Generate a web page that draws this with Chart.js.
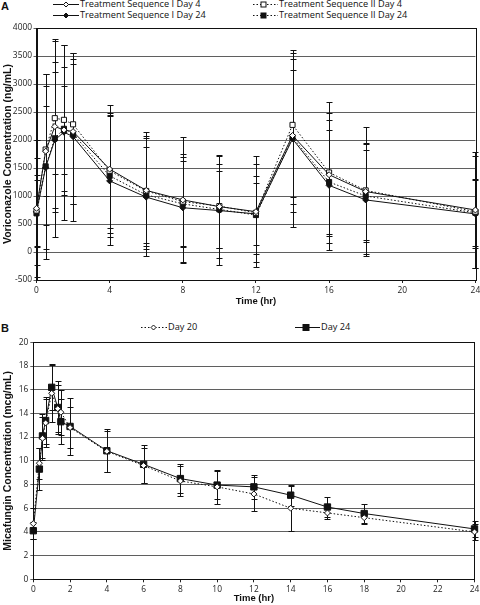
<!DOCTYPE html>
<html>
<head>
<meta charset="utf-8">
<script src="https://cdn.jsdelivr.net/npm/chart.js@4.4.1/dist/chart.umd.min.js"></script>
<style>
  body { margin: 0; background: #fff; width: 480px; height: 605px; overflow: hidden; position: relative; font-family: "Open Sans", "Liberation Sans", Arial, sans-serif; color: #111; }
  .panel { position: absolute; left: 0; width: 480px; }
  #wrapA { top: 0; height: 310px; }
  #wrapB { top: 315px; height: 290px; }
  .letter { position: absolute; font: bold 11px "Liberation Sans", Arial, sans-serif; line-height: 11px; }
  .lg { position: absolute; font-size: 9.2px; line-height: 10px; height: 10px; white-space: nowrap; display: flex; align-items: center; }
  .lg svg { display: block; margin-right: 1px; }
</style>
</head>
<body>
<div class="letter" style="left:1px;top:1px">A</div>
<div class="letter" style="left:1px;top:323px">B</div>
<div id="legends"></div>
<div class="panel" id="wrapA"><canvas id="chartA" width="480" height="310"></canvas></div>
<div class="panel" id="wrapB"><canvas id="chartB" width="480" height="290"></canvas></div>
<script>
// panel A: voriconazole, mean +/- SD
const timesA = [0, 0.5, 1, 1.5, 2, 4, 6, 8, 10, 12, 14, 16, 18, 24];
const seqIDay4 = [780, 1800, 2240, 2180, 2150, 1480, 1100, 930, 810, 720, 2080, 1380, 1080, 750];
const seqIDay4Sd = [1220, 800, 1530, 780, 1300, 1140, 1040, 1130, 920, 990, 1370, 1100, 870, 1040];
const seqIDay24 = [720, 1510, 2000, 2140, 2060, 1270, 980, 790, 740, 680, 2020, 1190, 930, 680];
const seqIDay24Sd = [960, 1450, 1220, 1560, 1500, 1150, 1060, 960, 980, 550, 1580, 1160, 1000, 600];
const seqIIDay4 = [740, 1830, 2390, 2360, 2280, 1450, 1090, 900, 820, 700, 2270, 1420, 1100, 720];
const seqIIDay4Sd = [630, 1340, 1000, 1340, 1280, 1030, 980, 800, 750, 880, 1280, 1260, 1130, 1000];
const seqIIDay24 = [690, 1530, 2030, 2200, 2110, 1360, 1020, 860, 760, 660, 2050, 1250, 1000, 700];
const seqIIDay24Sd = [600, 1650, 1770, 1110, 1250, 1090, 860, 770, 680, 700, 1200, 920, 830, 600];
const xTicksA = [0, 4, 8, 12, 16, 20, 24];
const yTicksA = [-500, 0, 500, 1000, 1500, 2000, 2500, 3000, 3500, 4000];

// panel B: micafungin, mean +/- SD
const timesB = [0, 0.33, 0.5, 0.67, 1, 1.33, 1.5, 2, 4, 6, 8, 10, 12, 14, 16, 18, 24];
const day20 = [4.7, 9.8, 11.9, 13.2, 15.7, 14.4, 14.1, 12.8, 10.8, 9.6, 8.3, 7.8, 7.2, 6.0, 5.6, 5.2, 4.0];
const day20Sd = [1.3, 1.3, 1.8, 2.0, 2.4, 2.0, 1.9, 1.7, 1.75, 1.45, 1.25, 1.45, 1.4, 1.9, 0.5, 0.5, 0.7];
const day24 = [4.1, 9.3, 12.1, 13.4, 16.2, 14.5, 13.3, 12.9, 10.85, 9.7, 8.5, 7.95, 7.8, 7.1, 6.1, 5.55, 4.25];
const day24Sd = [0.7, 1.75, 1.85, 2.0, 1.95, 2.2, 1.9, 2.4, 1.8, 1.6, 1.25, 1.2, 1.0, 0.9, 0.85, 0.8, 0.7];
const xTicksB = [0, 2, 4, 6, 8, 10, 12, 14, 16, 18, 20, 22, 24];
const yTicksB = [0, 2, 4, 6, 8, 10, 12, 14, 16, 18, 20];

const TICK_FONT = { family: "'Open Sans', 'Liberation Sans', Arial, sans-serif", size: 8.4 };
const TITLE_FONT = { family: "'Liberation Sans', Arial, sans-serif", size: 9.5, weight: 'bold' };
const YTITLE_FONT = { family: "'Liberation Sans', Arial, sans-serif", size: 10.5, weight: 'bold' };

function pts(xs, ys) { return xs.map((x, i) => ({ x: x, y: ys[i] })); }

function series(label, xs, ys, sd, style) {
  return {
    label: label,
    data: pts(xs, ys),
    sd: sd,
    clip: false,
    borderColor: '#111',
    borderWidth: 1,
    borderDash: style.dotted ? [1.5, 2] : [],
    pointStyle: style.shape,
    pointRadius: style.r,
    pointHoverRadius: style.r,
    pointBorderWidth: 1,
    pointBorderColor: '#111',
    pointBackgroundColor: style.open ? '#fff' : '#111',
    tension: 0,
    fill: false
  };
}

// error bars + plot frame, drawn through the chart's scales
const errorBars = {
  id: 'errorBars',
  beforeDatasetsDraw(chart, args, opts) {
    const { ctx, chartArea: a, scales: { x, y } } = chart;
    ctx.save();
    ctx.strokeStyle = '#111';
    ctx.lineWidth = 1;
    ctx.strokeRect(Math.round(a.left) + 0.5, Math.round(a.top) + 0.5, Math.round(a.width), Math.round(a.height));
    const cap = opts.cap || 3;
    chart.data.datasets.forEach(ds => {
      if (!ds.sd) return;
      ds.data.forEach((p, i) => {
        const px = Math.round(x.getPixelForValue(p.x)) + 0.5;
        const hi = Math.round(y.getPixelForValue(p.y + ds.sd[i])) + 0.5;
        const lo = Math.round(y.getPixelForValue(p.y - ds.sd[i])) + 0.5;
        ctx.beginPath();
        ctx.moveTo(px, hi); ctx.lineTo(px, lo);
        ctx.moveTo(px - cap, hi); ctx.lineTo(px + cap, hi);
        ctx.moveTo(px - cap, lo); ctx.lineTo(px + cap, lo);
        ctx.stroke();
      });
    });
    ctx.restore();
  }
};

function makeChart(id, datasets, cfg) {
  return new Chart(document.getElementById(id), {
    type: 'line',
    data: { datasets: datasets },
    plugins: [errorBars],
    options: {
      responsive: false,
      animation: false,
      events: [],
      layout: { padding: { left: 0, top: cfg.top, right: cfg.right, bottom: 0 } },
      plugins: { legend: { display: false }, tooltip: { enabled: false }, errorBars: { cap: cfg.cap } },
      scales: {
        x: {
          type: 'linear', min: 0, max: 24,
          afterBuildTicks: s => { s.ticks = cfg.xTicks.map(v => ({ value: v })); },
          afterFit: s => { s.height = cfg.xHeight; s.paddingLeft = 0; s.paddingRight = 0; },
          grid: { drawOnChartArea: false, drawTicks: true, tickLength: 3, color: '#222' },
          border: { display: true, color: '#111' },
          ticks: { font: TICK_FONT, color: '#222', padding: cfg.xPad, maxRotation: 0, callback: v => String(v) },
          title: { display: true, text: 'Time (hr)', font: TITLE_FONT, color: '#111', padding: { top: 0, bottom: cfg.xTitlePad } }
        },
        y: {
          type: 'linear', min: cfg.yMin, max: cfg.yMax,
          afterBuildTicks: s => { s.ticks = cfg.yTicks.map(v => ({ value: v })); },
          afterFit: s => { s.width = cfg.yWidth; s.paddingTop = 0; s.paddingBottom = 0; },
          grid: { color: '#5f5f5f', lineWidth: 1, drawTicks: true, tickLength: 3 },
          border: { display: true, color: '#111' },
          ticks: { font: TICK_FONT, color: '#222', padding: cfg.yPad, callback: v => String(v) },
          title: { display: true, text: cfg.yTitle, font: YTITLE_FONT, color: '#111', padding: { top: 1.5, bottom: 0 } }
        }
      }
    }
  });
}

makeChart('chartA', [
  series('Treatment Sequence I Day 4', timesA, seqIDay4, seqIDay4Sd, { shape: 'rectRot', r: 3, open: true, dotted: false }),
  series('Treatment Sequence II Day 4', timesA, seqIIDay4, seqIIDay4Sd, { shape: 'rect', r: 3.6, open: true, dotted: true }),
  series('Treatment Sequence II Day 24', timesA, seqIIDay24, seqIIDay24Sd, { shape: 'rect', r: 3.6, open: false, dotted: true }),
  series('Treatment Sequence I Day 24', timesA, seqIDay24, seqIDay24Sd, { shape: 'rectRot', r: 3, open: false, dotted: false })
], { top: 28, right: 3, yWidth: 36.5, xHeight: 30, yMin: -500, yMax: 4000, xTicks: xTicksA, yTicks: yTicksA,
     xPad: 3, yPad: 1.5, xTitlePad: 3, cap: 3, yTitle: 'Voriconazole Concentration (ng/mL)' });

makeChart('chartB', [
  series('Day 20', timesB, day20, day20Sd, { shape: 'rectRot', r: 3, open: true, dotted: true }),
  series('Day 24', timesB, day24, day24Sd, { shape: 'rect', r: 4.5, open: false, dotted: false })
], { top: 27.3, right: 5.3, yWidth: 33.3, xHeight: 25.7, yMin: 0, yMax: 20, xTicks: xTicksB, yTicks: yTicksB,
     xPad: 2, yPad: 2, xTitlePad: 0.5, cap: 3, yTitle: 'Micafungin Concentration (mcg/mL)' });

// legends as html, sample marks drawn in small svgs
function sample(w, mx, dotted, shape, open, size) {
  const fill = open ? '#fff' : '#111';
  const dash = dotted ? ' stroke-dasharray="1.5 2"' : '';
  const mark = shape === 'rect'
    ? `<rect x="${mx - size}" y="${5.5 - size}" width="${2 * size}" height="${2 * size}" fill="${fill}" stroke="#111" stroke-width="1"/>`
    : `<polygon points="${mx},${5.5 - size} ${mx + size},5.5 ${mx},${5.5 + size} ${mx - size},5.5" fill="${fill}" stroke="#111" stroke-width="1"/>`;
  return `<svg width="${w}" height="11"><line x1="0" y1="5.5" x2="${w}" y2="5.5" stroke="#111" stroke-width="1"${dash}/>${mark}</svg>`;
}
const legendItems = [
  { text: 'Treatment Sequence I Day 4', x: 53, y: 4, w: 26, mx: 13, dotted: false, shape: 'diamond', open: true, s: 2.5 },
  { text: 'Treatment Sequence I Day 24', x: 53, y: 15, w: 26, mx: 13, dotted: false, shape: 'diamond', open: false, s: 2.5 },
  { text: 'Treatment Sequence II Day 4', x: 253, y: 4, w: 25, mx: 10.5, dotted: true, shape: 'rect', open: true, s: 2.5 },
  { text: 'Treatment Sequence II Day 24', x: 253, y: 15, w: 25, mx: 10.5, dotted: true, shape: 'rect', open: false, s: 2.5 },
  { text: 'Day 20', x: 141, y: 327, w: 26, mx: 12.5, dotted: true, shape: 'diamond', open: true, s: 2.5 },
  { text: 'Day 24', x: 295, y: 327, w: 25, mx: 11, dotted: false, shape: 'rect', open: false, s: 3 }
];
const lgBox = document.getElementById('legends');
legendItems.forEach(it => {
  const d = document.createElement('div');
  d.className = 'lg';
  d.style.left = it.x + 'px';
  d.style.top = (it.y - 5) + 'px';
  d.innerHTML = sample(it.w, it.mx, it.dotted, it.shape, it.open, it.s) + '<span>' + it.text + '</span>';
  lgBox.appendChild(d);
});
</script>
</body>
</html>
